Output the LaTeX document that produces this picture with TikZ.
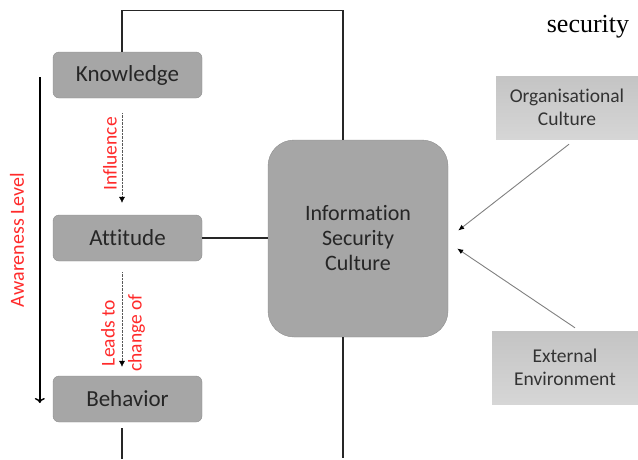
\documentclass[tikz,border=0pt]{standalone}
\usepackage{fontspec}
\setmainfont{Carlito}[Ligatures=NoCommon]
\newfontfamily\captionserif{Liberation Serif}
\usetikzlibrary{arrows.meta}

\definecolor{boxgray}{HTML}{A6A6A6}
\definecolor{boxline}{HTML}{8E8E8E}
\definecolor{envtop}{HTML}{C4C4C4}
\definecolor{envbottom}{HTML}{D6D6D6}
\definecolor{labelred}{HTML}{FF2A2A}

\begin{document}
\begin{tikzpicture}[x=1pt,y=-1pt,font=\rmfamily,
  level box/.style={draw=boxline,fill=boxgray,rounded corners=6pt,
    minimum width=149pt,minimum height=46pt,text=black!85,
    font=\fontsize{23}{26}\selectfont},
  culture box/.style={draw=boxline,fill=boxgray,rounded corners=26pt,
    minimum width=180pt,minimum height=197pt,align=center,text=black!85,
    font=\fontsize{22}{25}\selectfont},
  env box/.style={top color=envtop,bottom color=envbottom,draw=none,
    align=center,text=black!80,font=\fontsize{19.5}{23}\selectfont},
  red label/.style={text=labelred,rotate=90,align=center,
    font=\fontsize{19.5}{27}\selectfont},
  frame line/.style={line width=1.4pt,black!85},
  dotted arrow/.style={densely dotted,gray!70!black,-{Latex[length=6pt,width=6pt,color=black]}},
  env arrow/.style={gray,line width=0.9pt,-{Latex[length=6pt,width=5pt,color=black]}}]
\useasboundingbox (0,0) rectangle (638,459);
% the three levels, top to bottom
\foreach \X/\Z [count=\Y] in {Knowledge/75, Attitude/238, Behavior/399}
  \node[level box] (L-\Y) at (127.5,\Z) {\X};
\node[culture box] (isc) at (358,238.5) {Information\\Security\\Culture};
\node[env box,minimum width=142pt,minimum height=63pt] (org) at (567,107.5) {Organisational\\Culture};
\node[env box,minimum width=146pt,minimum height=73pt] (ext) at (565,367.5) {External\\Environment};
\node[font=\captionserif\fontsize{26}{28}\selectfont] (sec) at (588,27) {security};
% frame lines round the middle box
\draw[frame line] ([xshift=-5.5pt]L-1.north) -- ++(0,-41.5) -| ([xshift=-15pt]isc.north);
\draw[frame line] (L-2.east) -- (isc.west |- L-2.east);
\draw[frame line] ([xshift=-5.5pt,yshift=-6pt]L-3.south) -- ++(0,31);
\draw[frame line] ([xshift=-15pt]isc.south) -- ++(0,121);
% awareness level
\draw[line width=1.4pt,-{To[length=5pt,width=10pt]}] ([xshift=-13pt,yshift=-2pt]L-1.west) -- ([xshift=-13pt,yshift=-4pt]L-3.west);
\node[red label,font=\fontsize{20}{24}\selectfont] (aw) at (17,240) {Awareness Level};
% steps between the levels
\draw[dotted arrow] ([xshift=-5.5pt,yshift=-15pt]L-1.south) -- ([xshift=-5.5pt,yshift=12pt]L-2.north);
\node[red label] (infl) at (110,154) {Influence};
\draw[dotted arrow] ([xshift=-5.5pt,yshift=-11pt]L-2.south) -- ([xshift=-5.5pt,yshift=9pt]L-3.north);
\node[red label] (lead) at (123,333) {Leads to\\change of};
% outside influences
\draw[env arrow] ([xshift=2pt,yshift=-5pt]org.south) -- ([xshift=10pt,yshift=8pt]isc.east);
\draw[env arrow] ([xshift=10pt,yshift=3pt]ext.north) -- ([xshift=9pt,yshift=-10pt]isc.east);
\end{tikzpicture}
\end{document}
